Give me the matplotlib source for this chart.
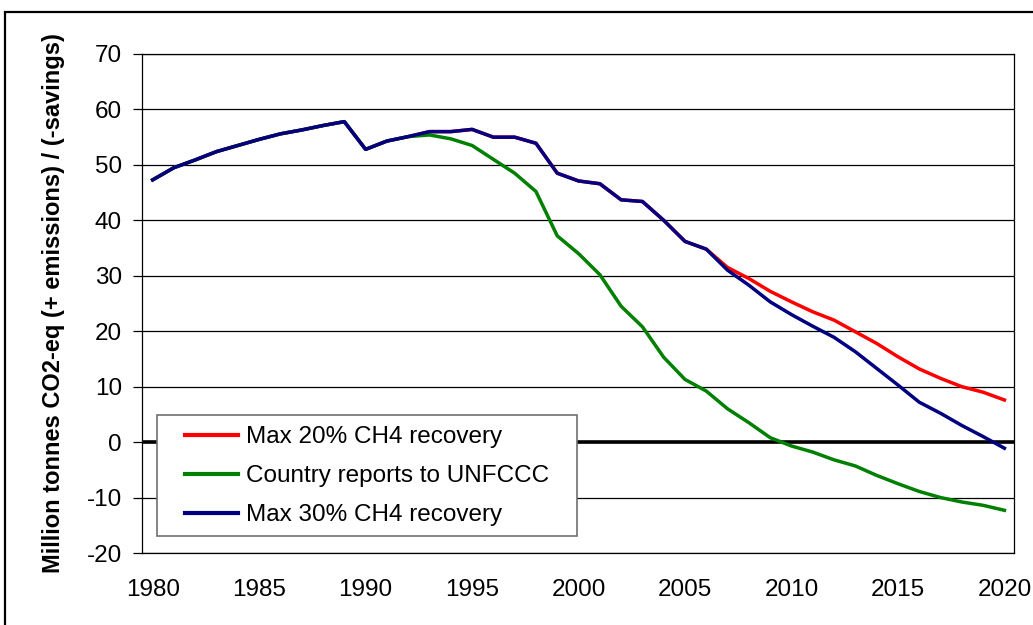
import matplotlib
matplotlib.use('Agg')
import matplotlib.pyplot as plt
from matplotlib.patches import Rectangle

plt.rcParams['font.family'] = ['Liberation Sans', 'DejaVu Sans']
plt.rcParams['axes.unicode_minus'] = False

years = list(range(1980, 2021))

# Max 30% CH4 recovery (also the shared history up to 2006)
max30 = [47.3, 49.5, 50.9, 52.4, 53.5, 54.6, 55.6, 56.3, 57.1, 57.8,
         52.8, 54.3, 55.1, 56.0, 56.0, 56.4, 55.0, 55.0, 53.9, 48.5,
         47.1, 46.6, 43.7, 43.4, 40.0, 36.2, 34.8, 31.0, 28.3, 25.3,
         23.0, 20.9, 18.9, 16.3, 13.3, 10.3, 7.2, 5.2, 3.0, 1.0,
         -1.1]

# Max 20% CH4 recovery
max20 = max30[:27] + [31.5, 29.5, 27.2, 25.3, 23.5, 22.0, 19.9, 17.8,
                      15.4, 13.2, 11.5, 10.0, 9.0, 7.6]

# Country reports to UNFCCC
unfccc = max30[:13] + [55.4, 54.7, 53.5, 51.0, 48.5, 45.2, 37.2, 34.0,
                       30.2, 24.5, 20.8, 15.3, 11.3, 9.2, 6.0, 3.5, 0.8,
                       -0.7, -1.8, -3.2, -4.3, -6.0, -7.5, -8.9, -10.0,
                       -10.8, -11.4, -12.3]

yticks = list(range(-20, 71, 10))
xticks = list(range(1980, 2021, 5))

fig = plt.figure(figsize=(10.33, 6.25), dpi=100)
ax = fig.add_axes([0.1375, 0.1152, 0.8441, 0.7984])

# outer chart border (runs off the right and bottom of the picture)
fig.patches.append(Rectangle((5 / 1033, -0.1), 1.2, (625 - 12) / 625 + 0.1,
                             transform=fig.transFigure, fill=False,
                             edgecolor='black', linewidth=1.6))

for y in yticks:
    ax.axhline(y, color='black', linewidth=0.9, zorder=1)
ax.axhline(0, color='black', linewidth=2.6, zorder=2)

ax.plot(years, max20, color='#FF0000', linewidth=2.5, label='Max 20% CH4 recovery', zorder=3)
ax.plot(years, unfccc, color='#008000', linewidth=2.5, label='Country reports to UNFCCC', zorder=4)
ax.plot(years, max30, color='#000080', linewidth=2.5, label='Max 30% CH4 recovery', zorder=5)

ax.set_xlim(1979.5, 2020.45)
ax.set_ylim(-20, 70)
ax.set_yticks(yticks)
ax.set_xticks(xticks)
ax.tick_params(axis='y', direction='out', length=6.5, width=0.9, pad=8, labelsize=17.5)
ax.tick_params(axis='x', length=0, pad=19, labelsize=17.5)
for s in ax.spines.values():
    s.set_color('black')
    s.set_linewidth(0.9)

ax.set_ylabel('Million tonnes CO2-eq (+ emissions) / (-savings)',
              fontsize=17, fontweight='bold')
ax.yaxis.set_label_coords(-0.088, 0.5)

# legend box drawn separately so the entries can sit where the reference has them
ax.add_patch(Rectangle((0.0172, 0.034), 0.4817, 0.2425, transform=ax.transAxes,
                       facecolor='white', edgecolor='#707070', linewidth=1.2,
                       zorder=6))
leg = ax.legend(loc='upper left', bbox_to_anchor=(0.0493, 0.254),
                fontsize=17.5, frameon=False, borderpad=0,
                labelspacing=0.70, handlelength=2.2,
                handletextpad=0.3, borderaxespad=0)
leg.set_zorder(7)
for line in leg.get_lines():
    line.set_linewidth(3)

fig.savefig('out.png', dpi=100)
